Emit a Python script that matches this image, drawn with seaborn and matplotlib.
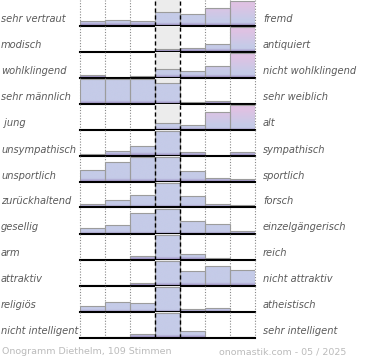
import numpy as np
import pandas as pd
import matplotlib
matplotlib.use("Agg")
import matplotlib.pyplot as plt
import seaborn as sns
from matplotlib.colors import to_rgb

left_labels = ["sehr vertraut", "modisch", "wohlklingend", "sehr männlich", " jung",
               "unsympathisch", "unsportlich", "zurückhaltend", "gesellig", "arm",
               "attraktiv", "religiös", "nicht intelligent"]
right_labels = ["fremd", "antiquiert", "nicht wohlklingend", "sehr weiblich", "alt",
                "sympathisch", "sportlich", "forsch", "einzelgängerisch", "reich",
                "nicht attraktiv", "atheistisch", "sehr intelligent"]
scale_steps = ["1", "2", "3", "4", "5", "6", "7"]

# relative bar heights per row (max of each row = 25)
row_fremd = [4.3, 5.7, 4.3, 14.0, 11.3, 17.7, 25.0]
row_antiquiert = [0, 0, 0, 2.3, 3.3, 7.7, 25.0]
row_klang = [2.5, 0, 1.7, 8.3, 6.7, 11.3, 25.0]
row_geschlecht = [25.0, 25.0, 25.0, 21.0, 1.7, 2.3, 0]
row_alter = [0, 0, 0, 6.3, 4.7, 18.0, 25.0]
row_sympathie = [2.0, 4.7, 9.3, 25.0, 3.7, 0, 3.7]
row_sport = [11.3, 19.3, 25.0, 25.0, 10.7, 3.7, 2.3]
row_forsch = [3.3, 7.7, 12.7, 25.0, 11.3, 3.7, 2.3]
row_gesellig = [5.7, 8.3, 20.7, 25.0, 12.7, 9.3, 2.7]
row_reich = [0, 0, 3.3, 25.0, 6.0, 1.5, 0]
row_attraktiv = [0.7, 0.7, 2.7, 25.0, 15.0, 19.3, 15.7]
row_religion = [5.3, 9.7, 8.3, 25.0, 2.3, 3.7, 0]
row_intelligenz = [0, 1.0, 3.7, 25.0, 7.0, 0, 1.0]
rows = [row_fremd, row_antiquiert, row_klang, row_geschlecht, row_alter,
        row_sympathie, row_sport, row_forsch, row_gesellig, row_reich,
        row_attraktiv, row_religion, row_intelligenz]
tinted_rows = [0, 1, 2, 4]

footer_left = "Onogramm Diethelm, 109 Stimmen"
footer_right = "onomastik.com - 05 / 2025"

W, H = 370, 360
fig = plt.figure(figsize=(W / 100, H / 100), dpi=100)
fig.patch.set_facecolor("white")

blue = np.array(to_rgb("#c5cbe8"))
purple = np.array(to_rgb("#a294c6"))
pink = np.array(to_rgb("#dfc2e3"))
ROW_H = 26.0


def gradient(tinted):
    ys = np.linspace(0, ROW_H, 261)
    cols = []
    for y in ys:
        if y < 2.5:
            t = y / 2.5
            c = purple * (1 - t) + blue * t
        else:
            c = blue
            if tinted and y > 5:
                t = min(1, (y - 5) / 15)
                c = blue * (1 - t) + pink * t
        cols.append(c)
    return np.array(cols)[::-1].reshape(-1, 1, 3)


for i, vals in enumerate(rows):
    base = 25.5 + 26 * i
    ax = fig.add_axes([80 / W, 1 - base / H, 175 / W, ROW_H / H])
    df = pd.DataFrame({"step": scale_steps, "value": vals})
    sns.barplot(data=df, x="step", y="value", color="#c5cbe8", saturation=1,
                width=1, edgecolor="#9c9c9c", linewidth=0.8, ax=ax, zorder=3,
                errorbar=None)
    bars = list(ax.containers[0])
    ax.axvspan(2.5, 3.5, color="#ececec", zorder=0, lw=0)
    for xv in [-0.5, 0.5, 1.5, 4.5, 5.5, 6.5]:
        ax.axvline(xv, color="#888888", lw=0.8, ls=(0, (1, 1.5)), zorder=1, clip_on=False)
    for j, p in enumerate(bars):
        h = p.get_height()
        if h <= 0:
            p.set_visible(False)
            continue
        tinted = (i in tinted_rows) and j >= 5
        x0 = p.get_x()
        im = ax.imshow(gradient(tinted), extent=(x0, x0 + p.get_width(), 0, ROW_H),
                       aspect="auto", zorder=2.5, interpolation="bilinear")
        im.set_clip_path(p)
        p.set_facecolor("none")
    ax.set_xlim(-0.5, 6.5)
    ax.set_ylim(0, ROW_H)
    ax.set_axis_off()
    for xv in [2.5, 3.5]:
        ax.axvline(xv, color="black", lw=1.0, ls=(0, (3, 2)), zorder=5, clip_on=False)
    ax.axhline(0, color="black", lw=1.5, zorder=6, clip_on=False)

    fig.text(1 / W, 1 - (base - 6) / H, left_labels[i], ha="left", va="center",
             fontsize=7.1, style="italic", color="#5a5a5a")
    fig.text(263 / W, 1 - (base - 6) / H, right_labels[i], ha="left", va="center",
             fontsize=7.1, style="italic", color="#5a5a5a")

fig.text(2 / W, 1 - 352 / H, footer_left, ha="left", va="center",
         fontsize=6.8, color="#bbbbbb")
fig.text(346 / W, 1 - 352 / H, footer_right, ha="right", va="center",
         fontsize=6.8, color="#bbbbbb")

fig.savefig("out.png", dpi=100, facecolor="white")
